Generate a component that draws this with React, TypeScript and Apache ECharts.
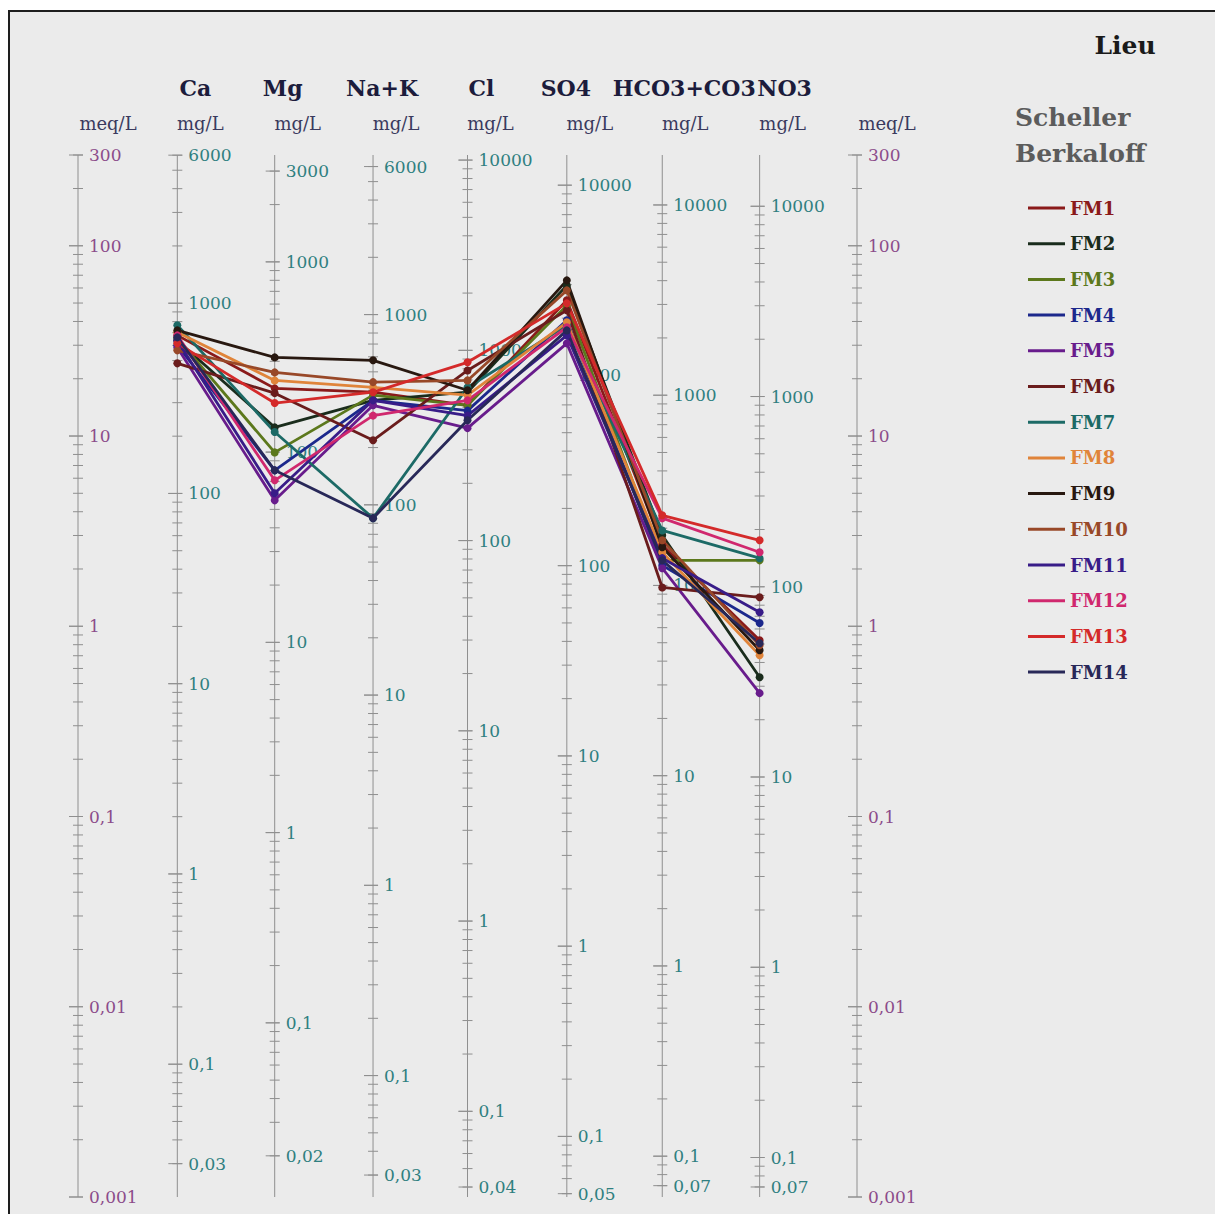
import React, { useEffect, useRef } from 'react';
import * as echarts from 'echarts';

// ---- Axes (columns) ----
const COLUMN_NAMES = ['', 'Ca', 'Mg', 'Na+K', 'Cl', 'SO4', 'HCO3+CO3', 'NO3', ''];
const UNIT_NAMES = ['meq/L', 'mg/L', 'mg/L', 'mg/L', 'mg/L', 'mg/L', 'mg/L', 'mg/L', 'meq/L'];
const EQ_WEIGHTS = [1, 20.04, 12.15, 23.0, 35.45, 48.03, 61.02, 62.0, 1];
const MEQ_MIN = 0.001;
const MEQ_MAX = 300;

// tick labels (in the unit of each axis)
const LABELS_MEQ = [300, 100, 10, 1, 0.1, 0.01, 0.001];
const LABELS_CA = [6000, 1000, 100, 10, 1, 0.1, 0.03];
const LABELS_MG = [3000, 1000, 100, 10, 1, 0.1, 0.02];
const LABELS_NAK = [6000, 1000, 100, 10, 1, 0.1, 0.03];
const LABELS_CL = [10000, 1000, 100, 10, 1, 0.1, 0.04];
const LABELS_SO4 = [10000, 1000, 100, 10, 1, 0.1, 0.05];
const LABELS_HCO3 = [10000, 1000, 100, 10, 1, 0.1, 0.07];
const LABELS_NO3 = [10000, 1000, 100, 10, 1, 0.1, 0.07];
const TICK_LABELS = [LABELS_MEQ, LABELS_CA, LABELS_MG, LABELS_NAK, LABELS_CL, LABELS_SO4, LABELS_HCO3, LABELS_NO3, LABELS_MEQ];

// ---- Samples (meq/L): Ca, Mg, Na+K, Cl, SO4, HCO3+CO3, NO3 ----
const SERIES_NAMES = ['FM1', 'FM2', 'FM3', 'FM4', 'FM5', 'FM6', 'FM7', 'FM8', 'FM9', 'FM10', 'FM11', 'FM12', 'FM13', 'FM14'];
const FM1 = [33.8, 17.8, 17.0, 14.5, 51.7, 2.67, 0.844];
const FM2 = [31.8, 11.1, 15.4, 17.0, 61.9, 3.01, 0.54];
const FM3 = [32.6, 8.2, 16.4, 14.5, 48.6, 2.22, 2.22];
const FM4 = [30.0, 6.6, 15.4, 13.6, 40.6, 2.09, 1.04];
const FM5 = [29.2, 4.59, 14.5, 11.0, 30.7, 2.02, 0.445];
const FM6 = [24.1, 16.8, 9.5, 22.1, 45.8, 1.6, 1.42];
const FM7 = [38.2, 10.5, 3.7, 18.0, 38.2, 3.19, 2.28];
const FM8 = [35.1, 19.6, 18.0, 16.4, 39.6, 2.45, 0.704];
const FM9 = [35.9, 25.9, 25.0, 17.4, 65.8, 2.6, 0.748];
const FM10 = [28.2, 21.6, 19.2, 19.6, 58.3, 2.83, 0.795];
const FM11 = [31.8, 5.0, 15.4, 12.8, 33.8, 2.28, 1.185];
const FM12 = [33.8, 5.85, 12.8, 15.4, 37.3, 3.7, 2.45];
const FM13 = [30.7, 14.9, 17.0, 24.4, 49.8, 3.83, 2.83];
const FM14 = [33.0, 6.6, 3.7, 12.1, 35.9, 2.22, 0.814];
const SERIES_VALUES = [FM1, FM2, FM3, FM4, FM5, FM6, FM7, FM8, FM9, FM10, FM11, FM12, FM13, FM14];

// ---- Layout / style (not data) ----
const COLUMN_POS = [0, 1.02, 2.02, 3.03, 4.0, 5.02, 6.0, 7.0, 8.0];
const HEADER_DX = [0, 18, 8, 9, 14, -1, 22, 25, 0];
const SERIES_COLORS = [
  '#8a1a1a', '#1a2c1c', '#5c781c', '#1c288c', '#681c8c', '#6a1c1c', '#1c6a66',
  '#e0843a', '#281810', '#984828', '#381c88', '#d0286e', '#d42a2a', '#282858',
];
const FONT = '"DejaVu Serif"';
const AXIS_GRAY = '#8f8f8f';

function fmt(v: number): string {
  if (v >= 1) return String(Math.round(v));
  return String(v).replace('.', ',');
}

export default function App() {
  const ref = useRef<HTMLDivElement>(null);

  useEffect(() => {
    if (!ref.current) return;
    const chart = echarts.init(ref.current, undefined, { renderer: 'svg' });

    const renderAxis = (params: any, api: any) => {
      const i = params.dataIndex;
      const pos = COLUMN_POS[i];
      const ew = EQ_WEIGHTS[i];
      const isMeq = UNIT_NAMES[i] === 'meq/L';
      const labelColor = isMeq ? '#8c4c8a' : '#2f7f80';
      const yOf = (u: number) => api.coord([pos, u / ew])[1];
      const x = api.coord([pos, 1])[0];
      const top = api.coord([pos, MEQ_MAX])[1];
      const bottom = api.coord([pos, MEQ_MIN])[1];
      const children: any[] = [];
      children.push({
        type: 'line',
        shape: { x1: x, y1: top, x2: x, y2: bottom },
        style: { stroke: AXIS_GRAY, lineWidth: 1 },
      });
      const uMin = MEQ_MIN * ew;
      const uMax = MEQ_MAX * ew;
      for (let k = Math.floor(Math.log10(uMin)); k <= Math.ceil(Math.log10(uMax)); k++) {
        for (let m = 1; m <= 9; m++) {
          const u = m * Math.pow(10, k);
          if (u < uMin * 0.999 || u > uMax * 1.001) continue;
          const y = yOf(u);
          const major = m === 1;
          children.push({
            type: 'line',
            shape: { x1: x - (major ? 9 : 5), y1: y, x2: x + 5, y2: y },
            style: { stroke: AXIS_GRAY, lineWidth: 1 },
          });
        }
      }
      TICK_LABELS[i].forEach((u) => {
        const y = yOf(u);
        children.push({
          type: 'line',
          shape: { x1: x - 9, y1: y, x2: x + 5, y2: y },
          style: { stroke: AXIS_GRAY, lineWidth: 1 },
        });
        children.push({
          type: 'text',
          x: x + 11,
          y,
          style: {
            text: fmt(u),
            fill: labelColor,
            font: `17px ${FONT}`,
            align: 'left',
            verticalAlign: 'middle',
          },
        });
      });
      if (COLUMN_NAMES[i]) {
        children.push({
          type: 'text',
          x: x + HEADER_DX[i],
          y: 88,
          style: {
            text: COLUMN_NAMES[i],
            fill: '#1c1c3c',
            font: `bold 22px ${FONT}`,
            align: 'center',
            verticalAlign: 'middle',
          },
        });
      }
      children.push({
        type: 'text',
        x: x + (isMeq ? 30 : 23),
        y: 123,
        style: {
          text: UNIT_NAMES[i],
          fill: '#3a3a5e',
          font: `18px ${FONT}`,
          align: 'center',
          verticalAlign: 'middle',
        },
      });
      return { type: 'group', children };
    };

    const lineSeries = SERIES_NAMES.map((name, s) => ({
      name,
      type: 'line',
      data: SERIES_VALUES[s].map((v, j) => [COLUMN_POS[j + 1], v]),
      symbol: 'circle',
      symbolSize: 8,
      lineStyle: { width: 2.8, color: SERIES_COLORS[s] },
      itemStyle: { color: SERIES_COLORS[s] },
      emphasis: { disabled: true },
      silent: true,
      z: 3,
    }));

    const option: any = {
      animation: false,
      backgroundColor: 'transparent',
      grid: { left: 78, right: 358, top: 155, bottom: 17 },
      xAxis: { type: 'value', min: 0, max: 8, show: false },
      yAxis: { type: 'log', logBase: 10, min: MEQ_MIN, max: MEQ_MAX, show: false },
      legend: {
        orient: 'vertical',
        left: 1028,
        top: 199,
        padding: 0,
        icon: 'rect',
        itemWidth: 37,
        itemHeight: 3,
        itemGap: 17.7,
        selectedMode: false,
        textStyle: { fontFamily: FONT, fontWeight: 'bold', fontSize: 18, lineHeight: 18 },
        data: SERIES_NAMES.map((name, s) => ({ name, textStyle: { color: SERIES_COLORS[s] } })),
      },
      graphic: [
        {
          type: 'rect',
          z: -10,
          shape: { x: 9, y: 11, width: 1240, height: 1240 },
          style: { fill: '#ebebeb', stroke: '#1e1e1e', lineWidth: 2 },
        },
        {
          type: 'text',
          x: 1125,
          y: 45,
          style: { text: 'Lieu', font: `bold 25px ${FONT}`, fill: '#1a1a1a', align: 'center', verticalAlign: 'middle' },
        },
        {
          type: 'text',
          x: 1015,
          y: 117,
          style: { text: 'Scheller', font: `bold 25px ${FONT}`, fill: '#5c5c5c', align: 'left', verticalAlign: 'middle' },
        },
        {
          type: 'text',
          x: 1015,
          y: 153,
          style: { text: 'Berkaloff', font: `bold 25px ${FONT}`, fill: '#5c5c5c', align: 'left', verticalAlign: 'middle' },
        },
      ],
      series: [
        {
          type: 'custom',
          coordinateSystem: 'cartesian2d',
          renderItem: renderAxis,
          data: COLUMN_POS.map((p) => [p, 1]),
          clip: false,
          silent: true,
          z: 1,
        },
        ...lineSeries,
      ],
    };

    chart.setOption(option);
    return () => chart.dispose();
  }, []);

  return (
    <div
      ref={ref}
      style={{ position: 'absolute', left: 0, top: 0, width: 1215, height: 1214, background: '#ffffff' }}
    />
  );
}
